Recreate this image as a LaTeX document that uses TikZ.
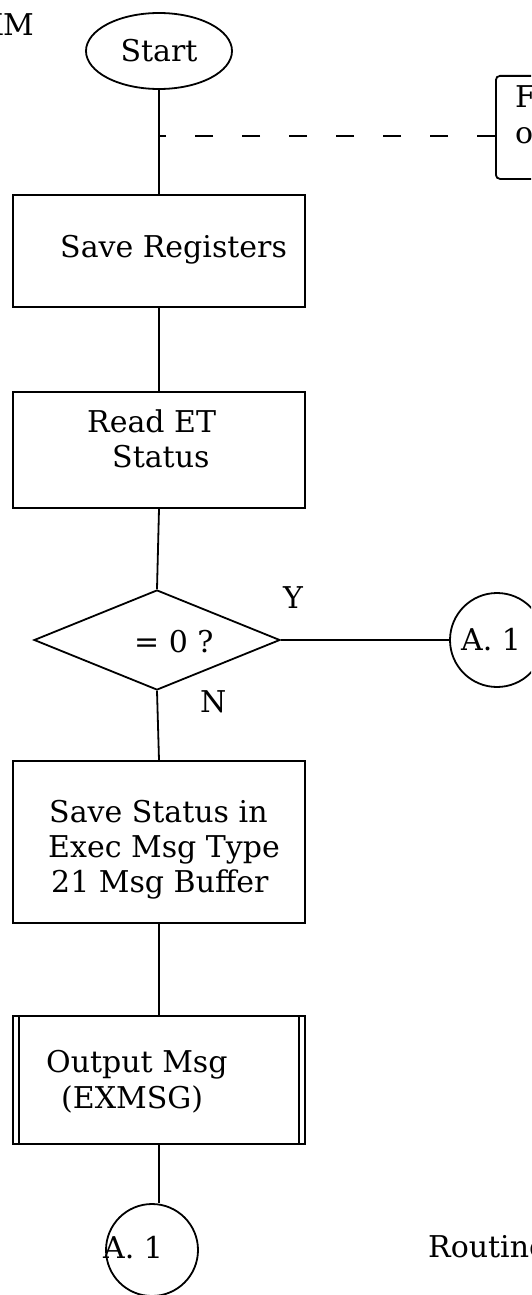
\documentclass[tikz,border=0pt]{standalone}
\usepackage{fontspec}
\setmainfont{DejaVu Serif}
\usetikzlibrary{shapes.geometric}
\begin{document}
\begin{tikzpicture}[x=1pt,y=-1pt,
  every node/.style={font=\fontsize{30}{35}\selectfont, inner sep=0pt},
  conn/.style={line width=1.8pt},
  box/.style={draw, line width=1.8pt, minimum width=292pt, rectangle},
  circ/.style={draw, line width=1.8pt, circle},
  txt/.style={anchor=base west}]
\useasboundingbox (0,0) rectangle (531,1295);
\clip (0,0) rectangle (531,1295);
% header fragment
\node[anchor=base east] (hdr) at (34,36) {XM};
% start
\node[draw, ellipse, line width=1.8pt, minimum width=146pt, minimum height=76pt] (start) at (159,51) {Start};
% external box
\node[draw, rectangle, rounded corners=4pt, line width=1.8pt, anchor=north west, minimum width=80pt, minimum height=103pt] (ext) at (495,75) {};
\node[txt] (extF) at (515,108) {F};
\node[txt] (exto) at (515,143) {o};
\coordinate (dj) at (159,136);
% boxes
\node[box, minimum height=112pt] (save) at (159,251) {};
\node[txt] (savet) at (60,257) {Save Registers};
\node[box, minimum height=116pt] (read) at (159,450) {};
\node[txt] (readt1) at (87,432) {Read ET};
\node[txt] (readt2) at (112,467) {Status};
% decision
\node[draw, diamond, line width=1.8pt, minimum width=246pt, minimum height=100pt] (dec) at (157,640) {};
\node[txt] (dect) at (134,652) {= 0 ?};
\node[txt] (ylab) at (283,608) {Y};
\node[txt] (nlab) at (200,712) {N};
\node[circ, minimum size=94pt] (a1r) at (497,640) {};
\node[txt] (a1rt) at (461,650) {A. 1};
% save status
\node[box, minimum height=162pt] (savest) at (159,842) {};
\node[txt] (sst1) at (49,822) {Save Status in};
\node[txt] (sst2) at (48,857) {Exec Msg Type};
\node[txt] (sst3) at (51,892) {21 Msg Buffer};
% output msg (predefined process)
\node[box, minimum height=128pt] (out) at (159,1080) {};
\draw[conn] ([xshift=7pt]out.north west) -- ([xshift=7pt]out.south west);
\draw[conn] ([xshift=-7pt]out.north east) -- ([xshift=-7pt]out.south east);
\node[txt] (outt1) at (46,1072) {Output Msg};
\node[txt] (outt2) at (61,1108) {(EXMSG)};
% bottom connector
\node[circ, minimum size=92pt] (a1b) at (152,1250) {};
\node[txt] (a1bt) at (103,1258) {A. 1};
\node[txt] (rout) at (428,1257) {Routine};
% connectors
\draw[conn] (start.south) -- (save.north);
\draw[conn, dash pattern=on 18pt off 29pt] (dj -| ext.west) -- (dj);
\draw[conn] (save.south) -- (read.north);
\draw[conn] (read.south) -- (dec.north);
\draw[conn] (dec.east) -- (a1r);
\draw[conn] (dec.south) -- (savest.north);
\draw[conn] (savest.south) -- (out.north);
\draw[conn] (out.south) -- (out.south |- a1b.north);
\end{tikzpicture}
\end{document}
